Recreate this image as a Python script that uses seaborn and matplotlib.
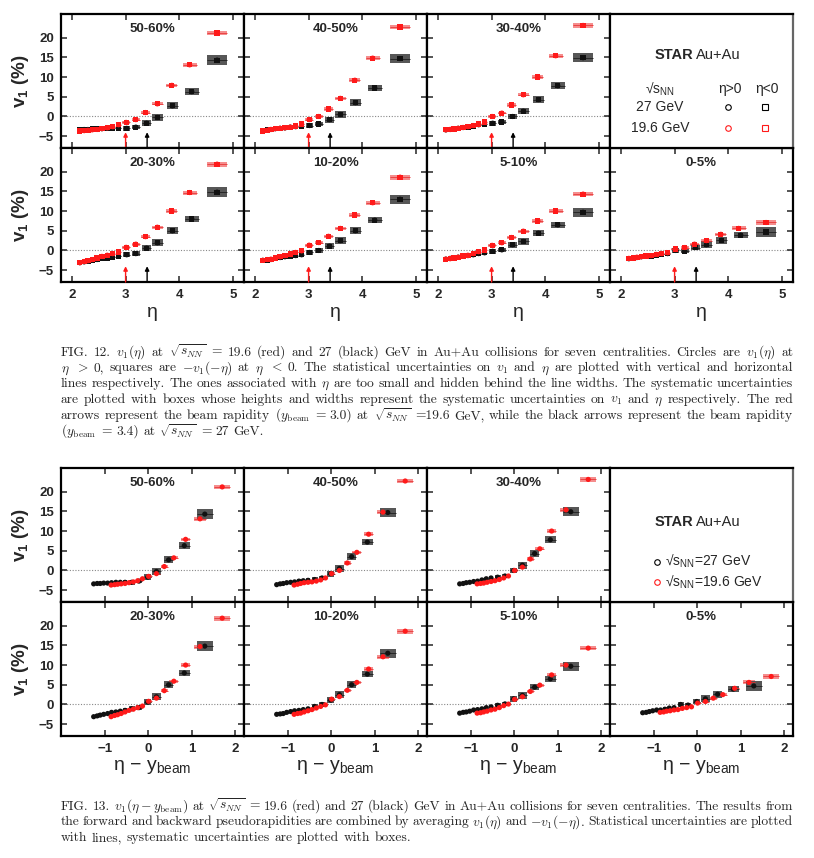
import numpy as np
import pandas as pd
import matplotlib
matplotlib.use("Agg")
import matplotlib.pyplot as plt
import seaborn as sns

# ---------------- data ----------------
CENTRALITIES = ["50-60%", "40-50%", "30-40%", "20-30%", "10-20%", "5-10%", "0-5%"]
ENERGIES = ["27 GeV", "19.6 GeV"]
Y_BEAM_27 = 3.4
Y_BEAM_196 = 3.0

ETA_27 = [2.15, 2.23, 2.30, 2.38, 2.47, 2.56, 2.66, 2.76, 2.87, 3.02, 3.19, 3.39, 3.59, 3.87, 4.23, 4.70]
ETA_196 = [2.15, 2.23, 2.30, 2.38, 2.47, 2.56, 2.66, 2.76, 2.87, 3.01, 3.19, 3.37, 3.59, 3.86, 4.19, 4.70]
SYS_ETA = [0.04, 0.04, 0.04, 0.04, 0.04, 0.04, 0.04, 0.04, 0.04, 0.07, 0.075, 0.08, 0.10, 0.10, 0.13, 0.19]
SYS_V1_27 = [0.45, 0.45, 0.45, 0.45, 0.45, 0.45, 0.45, 0.45, 0.5, 0.6, 0.6, 0.75, 0.85, 0.85, 0.85, 1.2]
SYS_V1_196 = [0.35, 0.35, 0.35, 0.35, 0.35, 0.35, 0.35, 0.35, 0.35, 0.35, 0.35, 0.4, 0.4, 0.45, 0.5, 0.6]

V1_27_50_60 = [-3.4, -3.3, -3.3, -3.2, -3.2, -3.1, -3.0, -3.0, -3.0, -3.0, -2.7, -1.7, -0.25, 2.7, 6.3, 14.3]
V1_196_50_60 = [-3.7, -3.6, -3.5, -3.4, -3.3, -3.1, -2.9, -2.6, -2.1, -1.5, -0.8, 1.0, 3.2, 7.9, 13.1, 21.2]
V1_27_40_50 = [-3.6, -3.4, -3.3, -3.1, -3.0, -2.9, -2.7, -2.6, -2.5, -2.3, -1.9, -0.8, 0.5, 3.5, 7.2, 14.7]
V1_196_40_50 = [-3.7, -3.5, -3.3, -3.1, -3.0, -2.9, -2.7, -2.4, -1.9, -0.8, 0.0, 1.9, 4.6, 9.2, 14.8, 22.7]
V1_27_30_40 = [-3.4, -3.3, -3.1, -3.0, -2.8, -2.7, -2.4, -2.1, -1.9, -1.7, -1.4, 0.0, 1.35, 4.3, 7.8, 14.9]
V1_196_30_40 = [-3.4, -3.3, -3.2, -3.0, -2.8, -2.6, -2.3, -1.9, -1.4, 0.0, 0.85, 2.9, 5.5, 10.0, 15.4, 23.1]
V1_27_20_30 = [-3.1, -2.9, -2.7, -2.5, -2.3, -2.0, -1.9, -1.7, -1.5, -1.1, -0.8, 0.6, 1.95, 5.0, 8.0, 14.8]
V1_196_20_30 = [-3.1, -2.8, -2.6, -2.3, -1.9, -1.5, -1.2, -0.8, -0.4, 0.8, 1.6, 3.5, 5.9, 10.0, 14.7, 21.9]
V1_27_10_20 = [-2.5, -2.4, -2.3, -2.0, -1.8, -1.6, -1.5, -1.3, -1.1, -0.5, 0.0, 1.1, 2.5, 5.0, 7.7, 13.0]
V1_196_10_20 = [-2.5, -2.3, -2.2, -1.9, -1.6, -1.3, -0.9, -0.5, -0.1, 1.35, 2.0, 3.6, 5.6, 9.0, 12.1, 18.6]
V1_27_5_10 = [-2.2, -2.0, -1.9, -1.7, -1.4, -1.3, -1.1, -0.8, -0.6, -0.2, 0.15, 1.45, 2.3, 4.4, 6.5, 9.7]
V1_196_5_10 = [-2.2, -2.1, -1.9, -1.7, -1.4, -1.2, -0.8, -0.3, 0.1, 1.3, 1.95, 3.3, 4.9, 7.5, 10.0, 14.3]
V1_27_0_5 = [-2.1, -2.0, -1.8, -1.6, -1.4, -1.4, -1.2, -0.9, -0.8, 0.0, -0.15, 0.75, 1.45, 2.6, 3.9, 4.7]
V1_196_0_5 = [-2.0, -1.9, -1.7, -1.6, -1.4, -1.3, -1.0, -0.8, -0.6, 0.35, 0.75, 1.6, 2.5, 4.1, 5.6, 7.1]

V1_27 = [V1_27_50_60, V1_27_40_50, V1_27_30_40, V1_27_20_30, V1_27_10_20, V1_27_5_10, V1_27_0_5]
V1_196 = [V1_196_50_60, V1_196_40_50, V1_196_30_40, V1_196_20_30, V1_196_10_20, V1_196_5_10, V1_196_0_5]

FIG12_XTICKS = [2, 3, 4, 5]
FIG13_XTICKS = [-1, 0, 1, 2]
YTICKS = [-5, 0, 5, 10, 15, 20]

CAPTION_12 = [
    r"FIG. 12. $v_1(\eta)$ at $\sqrt{s_{NN}}$ = 19.6 (red) and 27 (black) GeV in Au+Au collisions for seven centralities. Circles are $v_1(\eta)$ at",
    r"$\eta$ $>$ 0, squares are $-v_1(-\eta)$ at $\eta$ $<$ 0. The statistical uncertainties on $v_1$ and $\eta$ are plotted with vertical and horizontal",
    r"lines respectively. The ones associated with $\eta$ are too small and hidden behind the line widths. The systematic uncertainties",
    r"are plotted with boxes whose heights and widths represent the systematic uncertainties on $v_1$ and $\eta$ respectively. The red",
    r"arrows represent the beam rapidity $(y_\mathrm{beam}$ = 3.0) at $\sqrt{s_{NN}}$ =19.6 GeV, while the black arrows represent the beam rapidity",
    r"$(y_\mathrm{beam}$ = 3.4) at $\sqrt{s_{NN}}$ = 27 GeV.",
]
CAPTION_13 = [
    r"FIG. 13. $v_1(\eta-y_\mathrm{beam})$ at $\sqrt{s_{NN}}$ = 19.6 (red) and 27 (black) GeV in Au+Au collisions for seven centralities. The results from",
    r"the forward and backward pseudorapidities are combined by averaging $v_1(\eta)$ and $-v_1(-\eta)$. Statistical uncertainties are plotted",
    r"with lines, systematic uncertainties are plotted with boxes.",
]

# ---------------- style ----------------
sns.set_style("ticks")
plt.rcParams["font.family"] = ["Liberation Sans", "DejaVu Sans"]
plt.rcParams["font.weight"] = "normal"

W, H = 814, 858
fig = plt.figure(figsize=(W / 100, H / 100), dpi=100, facecolor="white")

COLS_X = [61, 244, 427, 610]
PW, PH = 183, 134
FIG12_ROWS = [14, 148]
FIG13_ROWS = [468, 602]

PAL = {"27 GeV": "#111111", "19.6 GeV": "#ff1a1a"}
BOXC = {"27 GeV": ("#505050", 0.8), "19.6 GeV": ("#f47878", 0.6)}
LINEC = {"27 GeV": "#1a1a1a", "19.6 GeV": "#e83030"}
SQRT_S = r"√s$_\mathregular{NN}$"


def make_ax(col, row_y):
    return fig.add_axes([COLS_X[col] / W, 1 - (row_y + PH) / H, PW / W, PH / H])


def panel_frame(ax, xlim, xticks, show_x, show_y, xlabel, xlabel_y):
    ax.set_xlim(*xlim)
    ax.set_ylim(-8, 26)
    ax.set_xticks(xticks)
    ax.set_yticks(YTICKS)
    ax.tick_params(direction="in", top=True, right=True, length=4, width=1.1,
                   labelsize=9.5, pad=5, labelbottom=show_x, labelleft=show_y)
    for lab in ax.get_xticklabels() + ax.get_yticklabels():
        lab.set_fontweight("bold")
    for s in ax.spines.values():
        s.set_linewidth(1.6)
        s.set_color("black")
    ax.set_xlabel("")
    ax.set_ylabel("")
    if show_y:
        ax.set_ylabel(r"v$_\mathregular{1}$ (%)", fontsize=13.5, fontweight="bold")
        ax.yaxis.set_label_coords(-0.165, 0.5)
    if show_x:
        ax.set_xlabel(xlabel, fontsize=14)
        ax.xaxis.label.set_va("center")
        ax.xaxis.set_label_coords(0.5, xlabel_y)
    ax.axhline(0, color="#888888", lw=0.8, ls=(0, (1, 1.5)), zorder=0)


def draw_series(ax, df, show_squares):
    for en in ["19.6 GeV", "27 GeV"]:
        d = df[df["energy"] == en]
        fc, al = BOXC[en]
        ax.bar(d["x"], 2 * d["sv"], bottom=d["v1"] - d["sv"], width=2 * d["sx"],
               color=fc, alpha=al, linewidth=0, zorder=1)
        ax.hlines(d["v1"], d["x"] - d["sx"], d["x"] + d["sx"], color=LINEC[en],
                  lw=0.6, alpha=0.6, zorder=2)
    pts = df if show_squares else df[df["side"] == "η>0"]
    sns.scatterplot(data=pts, x="x", y="v1", hue="energy", style="side",
                    markers={"η>0": "o", "η<0": "s"}, palette=PAL, s=14,
                    linewidth=0, legend=False, ax=ax, zorder=3)


def panel_df(i, shifted):
    rows = []
    for en, eta, v1, sv, yb in [("27 GeV", ETA_27, V1_27[i], SYS_V1_27, Y_BEAM_27),
                                ("19.6 GeV", ETA_196, V1_196[i], SYS_V1_196, Y_BEAM_196)]:
        for side in ["η>0", "η<0"]:
            for k in range(len(eta)):
                x = eta[k] - yb if shifted else eta[k]
                rows.append(dict(x=x, v1=v1[k], sx=SYS_ETA[k], sv=sv[k],
                                 energy=en, side=side))
    return pd.DataFrame(rows)


POS = [(0, 0), (1, 0), (2, 0), (0, 1), (1, 1), (2, 1), (3, 1)]

for fig_id, rows_y in [(12, FIG12_ROWS), (13, FIG13_ROWS)]:
    for i, cent in enumerate(CENTRALITIES):
        col, r = POS[i]
        ax = make_ax(col, rows_y[r])
        df = panel_df(i, shifted=(fig_id == 13))
        draw_series(ax, df, show_squares=(fig_id == 12))
        if fig_id == 12:
            panel_frame(ax, (1.8, 5.2), FIG12_XTICKS, r == 1, col == 0, "η", -0.224)
            for xb, c in [(Y_BEAM_196, "#ff1a1a"), (Y_BEAM_27, "black")]:
                ax.annotate("", xy=(xb, -4.0), xytext=(xb, -8.0),
                            arrowprops=dict(arrowstyle="-|>", color=c, lw=1.0,
                                            mutation_scale=6, shrinkA=0, shrinkB=0),
                            zorder=4)
        else:
            panel_frame(ax, (-2.0, 2.2), FIG13_XTICKS, r == 1, col == 0,
                        r"η − y$_\mathregular{beam}$", -0.229)
        ax.text(0.5, 0.888, cent, transform=ax.transAxes, ha="center", va="center",
                fontsize=9.5, fontweight="bold")

    # legend panel
    lax = make_ax(3, rows_y[0])
    lax.set_xlim(0, 1)
    lax.set_ylim(0, 1)
    lax.set_xticks([])
    lax.set_yticks([])
    for k, s in lax.spines.items():
        s.set_linewidth(1.6)
        s.set_color("#666666" if k == "right" else "black")
    if fig_id == 12:
        lax.text(0.454, 0.694, "STAR", ha="right", va="center", fontsize=10.5, fontweight="bold")
        lax.text(0.47, 0.694, "Au+Au", ha="left", va="center", fontsize=10.5)
        lax.text(0.273, 0.44, SQRT_S, ha="center", va="center", fontsize=10)
        lax.text(0.656, 0.44, "η>0", ha="center", va="center", fontsize=10)
        lax.text(0.858, 0.44, "η<0", ha="center", va="center", fontsize=10)
        lax.text(0.273, 0.306, "27 GeV", ha="center", va="center", fontsize=10)
        lax.text(0.273, 0.149, "19.6 GeV", ha="center", va="center", fontsize=10)
        for yy, c in [(0.306, "black"), (0.149, "#ff1a1a")]:
            lax.plot([0.645], [yy], marker="o", mfc="none", mec=c, ms=4, mew=0.8)
            lax.plot([0.847], [yy], marker="s", mfc="none", mec=c, ms=4, mew=0.8)
    else:
        lax.text(0.454, 0.60, "STAR", ha="right", va="center", fontsize=10.5, fontweight="bold")
        lax.text(0.47, 0.60, "Au+Au", ha="left", va="center", fontsize=10.5)
        for yy, c, lab in [(0.30, "black", "27 GeV"), (0.147, "#ff1a1a", "19.6 GeV")]:
            lax.plot([0.257], [yy], marker="o", mfc="none", mec=c, ms=4, mew=0.8)
            lax.text(0.30, yy, SQRT_S + "=" + lab, ha="left", va="center", fontsize=10)

# ---------------- captions (justified) ----------------
CAP_FONT = ["cmr10", "DejaVu Serif"]
CAP_FS = 9.7
renderer = fig.canvas.get_renderer()


def justified(lines, x0, x1, y_first, dy):
    space = CAP_FS * 100 / 72 * 0.33
    for i, line in enumerate(lines):
        words = line.split()
        texts = [fig.text(0, 0, w, fontsize=CAP_FS, family=CAP_FONT,
                          math_fontfamily="cm", va="baseline", ha="left")
                 for w in words]
        widths = [t.get_window_extent(renderer).width for t in texts]
        if i == len(lines) - 1 or len(words) < 2:
            gap = space
        else:
            gap = (x1 - x0 - sum(widths)) / (len(words) - 1)
        x = x0
        yb = 1 - (y_first + i * dy + 3.5) / H
        for t, w in zip(texts, widths):
            t.set_position((x / W, yb))
            x += w + gap


justified(CAPTION_12, 61, 793, 352, 15.9)
justified(CAPTION_13, 61, 793, 806, 15.9)

fig.savefig("out.png", dpi=100, facecolor="white")
